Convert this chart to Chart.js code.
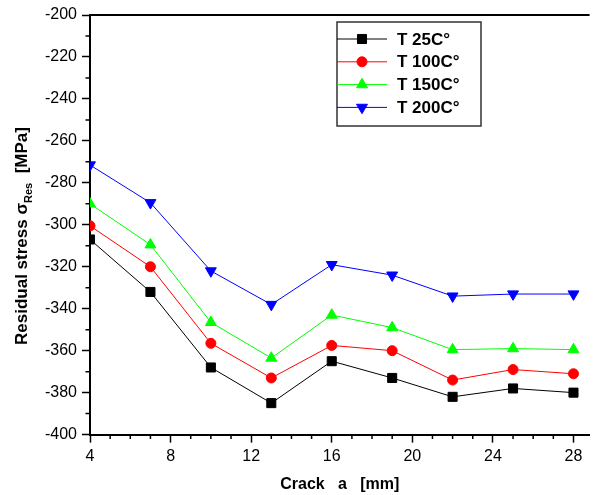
<!DOCTYPE html>
<html>
<head>
<meta charset="utf-8">
<script src="https://cdn.jsdelivr.net/npm/chart.js@4.4.0/dist/chart.umd.min.js"></script>
<style>
  html, body { margin: 0; padding: 0; background: #fff; }
  #wrap { width: 597px; height: 495px; }
</style>
</head>
<body>
<div id="wrap"><canvas id="my-chart"></canvas></div>
<script>
// values
const crackLength = [4, 7, 10, 13, 16, 19, 22, 25, 28];
const stress25 = [-307, -332, -368, -385, -365, -373, -382, -378, -380];
const stress100 = [-300.5, -320, -356.5, -373, -357.5, -360, -374, -369, -371];
const stress150 = [-290, -309.5, -346.5, -363.5, -343, -349, -359.5, -359, -359.5];
const stress200 = [-271.5, -289.5, -322, -338, -319, -324, -334, -333, -333];
const seriesLabels = ['T 25C°', 'T 100C°', 'T 150C°', 'T 200C°'];

const xTicks = [4, 8, 12, 16, 20, 24, 28];
const xMinorTicks = [5, 6, 7, 9, 10, 11, 13, 14, 15, 17, 18, 19, 21, 22, 23, 25, 26, 27];
const yTicks = [-400, -380, -360, -340, -320, -300, -280, -260, -240, -220, -200];
const yMinorTicks = [-390, -370, -350, -330, -310, -290, -270, -250, -230, -210];

const fontFamily = "Arial, 'Liberation Sans', sans-serif";
Chart.defaults.font.family = fontFamily;
Chart.defaults.color = '#000';

function makeSeries(label, values, color, style, rotation, radius) {
  return {
    label: label,
    data: crackLength.map((x, i) => ({ x: x, y: values[i] })),
    borderColor: color,
    backgroundColor: color,
    borderWidth: 1,
    pointStyle: style,
    pointRotation: rotation,
    pointRadius: radius,
    pointBorderWidth: 1,
    pointBackgroundColor: color,
    pointBorderColor: color,
    tension: 0
  };
}

function drawMarker(ctx, style, rotation, r, x, y) {
  ctx.beginPath();
  if (style === 'rect') {
    const s = r * Math.SQRT1_2;
    ctx.rect(x - s, y - s, 2 * s, 2 * s);
  } else if (style === 'circle') {
    ctx.arc(x, y, r, 0, Math.PI * 2);
  } else {
    let a = rotation * Math.PI / 180;
    for (let k = 0; k < 3; k++) {
      const px = x + Math.sin(a) * r, py = y - Math.cos(a) * r;
      if (k === 0) ctx.moveTo(px, py); else ctx.lineTo(px, py);
      a += 2 * Math.PI / 3;
    }
    ctx.closePath();
  }
  ctx.fill();
  ctx.stroke();
}

const extras = {
  id: 'extras',
  afterDraw(chart) {
    const ctx = chart.ctx;
    const area = chart.chartArea;
    const xs = chart.scales.x, ys = chart.scales.y;
    ctx.save();

    // top frame line
    ctx.strokeStyle = '#000';
    ctx.lineWidth = 2;
    ctx.beginPath();
    ctx.moveTo(area.left - 1, area.top);
    ctx.lineTo(area.right, area.top);
    ctx.stroke();

    // minor ticks
    ctx.lineWidth = 1.5;
    ctx.beginPath();
    xMinorTicks.forEach(v => {
      const px = xs.getPixelForValue(v);
      ctx.moveTo(px, area.bottom);
      ctx.lineTo(px, area.bottom + 4.5);
    });
    yMinorTicks.forEach(v => {
      const py = ys.getPixelForValue(v);
      ctx.moveTo(area.left, py);
      ctx.lineTo(area.left - 4.5, py);
    });
    ctx.stroke();

    // y axis title with subscript
    ctx.save();
    ctx.translate(0, 236);
    ctx.rotate(-Math.PI / 2);
    ctx.fillStyle = '#000';
    ctx.textAlign = 'left';
    ctx.textBaseline = 'alphabetic';
    const main = 'Residual stress σ', sub = 'Res', tail = '  [MPa]';
    ctx.font = 'bold 17px ' + fontFamily;
    const w1 = ctx.measureText(main).width, w3 = ctx.measureText(tail).width;
    ctx.font = 'bold 11px ' + fontFamily;
    const w2 = ctx.measureText(sub).width;
    const start = -(w1 + w2 + w3) / 2;
    ctx.font = 'bold 17px ' + fontFamily;
    ctx.fillText(main, start, 27);
    ctx.fillText(tail, start + w1 + w2, 27);
    ctx.font = 'bold 11px ' + fontFamily;
    ctx.fillText(sub, start + w1, 32);
    ctx.restore();

    // legend box
    const lx = 337, ly = 22, lw = 144, lh = 104;
    ctx.strokeStyle = '#333';
    ctx.lineWidth = 1.5;
    ctx.strokeRect(lx, ly, lw, lh);
    ctx.font = 'bold 17px ' + fontFamily;
    ctx.textBaseline = 'middle';
    ctx.textAlign = 'left';
    chart.data.datasets.forEach((ds, i) => {
      const cy = 39 + i * 22.8;
      ctx.strokeStyle = ds.borderColor;
      ctx.fillStyle = ds.backgroundColor;
      ctx.lineWidth = 1;
      ctx.beginPath();
      ctx.moveTo(lx, cy);
      ctx.lineTo(lx + 50, cy);
      ctx.stroke();
      drawMarker(ctx, ds.pointStyle, ds.pointRotation, ds.pointRadius, lx + 25, cy);
      ctx.fillStyle = '#000';
      ctx.fillText(ds.label, lx + 60, cy + 1);
    });

    ctx.restore();
  }
};

const ctx = document.getElementById('my-chart').getContext('2d');
const chart = new Chart(ctx, {
  type: 'line',
  data: {
    datasets: [
      makeSeries(seriesLabels[0], stress25, '#000000', 'rect', 0, 6.4),
      makeSeries(seriesLabels[1], stress100, '#ff0000', 'circle', 0, 5),
      makeSeries(seriesLabels[2], stress150, '#00ff00', 'triangle', 0, 6.3),
      makeSeries(seriesLabels[3], stress200, '#0000ff', 'triangle', 180, 6.3)
    ]
  },
  options: {
    responsive: true,
    maintainAspectRatio: false,
    animation: false,
    devicePixelRatio: 1,
    layout: { padding: { top: 15, right: 0, left: 0, bottom: 0 } },
    plugins: {
      legend: { display: false },
      tooltip: { enabled: false }
    },
    scales: {
      x: {
        type: 'linear',
        min: 4,
        max: 28.8,
        afterBuildTicks: scale => { scale.ticks = xTicks.map(v => ({ value: v })); },
        ticks: { font: { size: 16 }, padding: 4, color: '#000', maxRotation: 0 },
        grid: { drawOnChartArea: false, tickLength: 8, tickWidth: 1.5, color: '#000' },
        border: { display: true, width: 2, color: '#000' },
        title: {
          display: true,
          text: 'Crack   a   [mm]',
          font: { size: 16, weight: 'bold' },
          color: '#000',
          padding: { top: 5, bottom: 1 }
        }
      },
      y: {
        type: 'linear',
        min: -400,
        max: -200,
        afterBuildTicks: scale => { scale.ticks = yTicks.map(v => ({ value: v })); },
        afterFit: scale => { scale.width = 90; },
        ticks: { font: { size: 16 }, padding: 5, color: '#000' },
        grid: { drawOnChartArea: false, tickLength: 8, tickWidth: 1.5, color: '#000' },
        border: { display: true, width: 2, color: '#000' }
      }
    }
  },
  plugins: [extras]
});
</script>
</body>
</html>
